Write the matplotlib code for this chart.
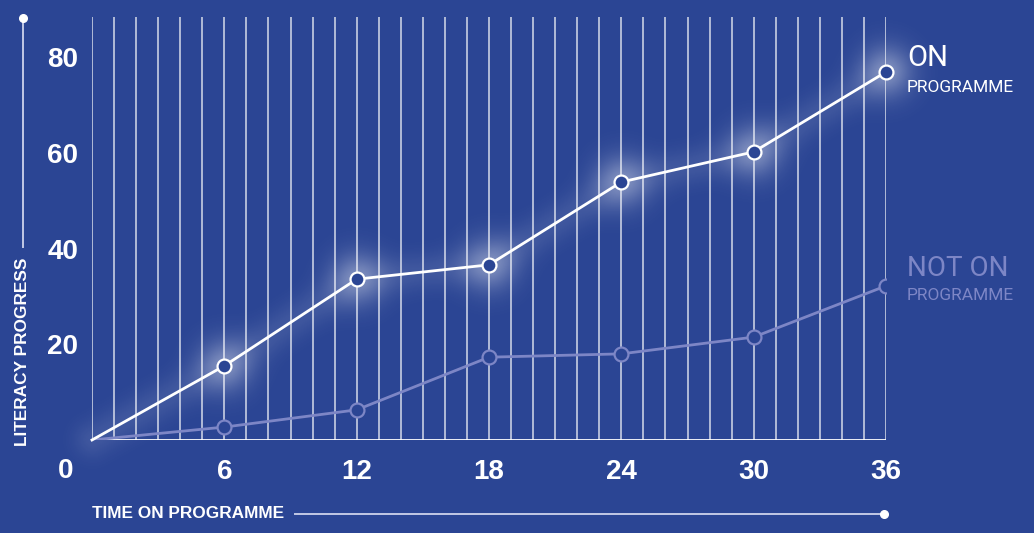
import matplotlib
matplotlib.use("Agg")
import matplotlib.pyplot as plt
import numpy as np

months = [0, 6, 12, 18, 24, 30, 36]
on_programme = [0, 15.5, 33.6, 36.6, 53.9, 60.2, 76.9]
not_on_programme = [0, 2.7, 6.3, 17.3, 18.0, 21.5, 32.2]
x_ticks = [6, 12, 18, 24, 30, 36]
y_ticks = [20, 40, 60, 80]
grid_months = list(range(0, 37))

BG = "#2b4594"
NOT_ON = "#7d86c6"
W, H = 1034, 533

fig = plt.figure(figsize=(W / 100, H / 100), dpi=100, facecolor=BG)
ax = fig.add_axes([92 / W, 1 - 440 / H, (886 - 92) / W, (440 - 15) / H])
ax.set_facecolor("none")
ax.set_xlim(0, 36)
ax.set_ylim(0, 88.8)
for s in ax.spines.values():
    s.set_visible(False)

# soft glow around the ON programme line, computed in pixel space
pts = ax.transData.transform(np.column_stack([months, on_programme]))
yy, xx = np.mgrid[0:H, 0:W].astype(float)
glow = np.zeros((H, W))
for (px, py) in pts[1:]:
    d2 = (xx - px) ** 2 + (yy - py) ** 2
    glow += 0.30 * np.exp(-d2 / (2 * 19.0 ** 2))
seg_d = np.full((H, W), 1e9)
for (x0, y0), (x1, y1) in zip(pts[:-1], pts[1:]):
    dx, dy = x1 - x0, y1 - y0
    t = np.clip(((xx - x0) * dx + (yy - y0) * dy) / (dx * dx + dy * dy), 0, 1)
    d2 = (xx - (x0 + t * dx)) ** 2 + (yy - (y0 + t * dy)) ** 2
    seg_d = np.minimum(seg_d, d2)
glow += 0.10 * np.exp(-seg_d / (2 * 13.0 ** 2))
glow = np.clip(glow, 0, 0.5)
rgba = np.ones((H, W, 4))
rgba[..., 3] = glow
fig.figimage(rgba, xo=0, yo=0, origin="lower", zorder=-1)

# vertical grid lines
ax.vlines(grid_months, 0, 88.4, colors="white", lw=1.1, alpha=0.8, zorder=1)
ax.plot([0, 36], [0, 0], color="white", lw=2, zorder=2, solid_capstyle="butt")

ax.plot(months, not_on_programme, color=NOT_ON, lw=2, zorder=3,
        marker="o", markersize=10, markerfacecolor=BG, markeredgecolor=NOT_ON,
        markeredgewidth=1.6, markevery=list(range(1, 7)))
ax.plot(months, on_programme, color="white", lw=2, zorder=4,
        marker="o", markersize=10, markerfacecolor=BG, markeredgecolor="white",
        markeredgewidth=1.6, markevery=list(range(1, 7)), clip_on=False)

ax.set_xticks(x_ticks)
ax.set_yticks(y_ticks)
ax.tick_params(length=0, colors="white")
ax.tick_params(axis="x", pad=14)
ax.tick_params(axis="y", pad=10)
for lab in ax.get_xticklabels() + ax.get_yticklabels():
    lab.set_fontfamily("Liberation Sans")
    lab.set_fontsize(20)
    lab.set_fontweight("bold")
    lab.set_color("white")
ax.annotate("0", xy=(0, 0), xytext=(-19, -22), textcoords="offset points",
            ha="center", va="center", color="white", fontsize=20,
            fontweight="bold", family="Liberation Sans", annotation_clip=False)

# right-side labels
fig.text(907 / W, 1 - 58 / H, "ON", color="white", fontsize=21,
         family="Roboto", va="center", ha="left")
fig.text(907 / W, 1 - 87.5 / H, "PROGRAMME", color="white", fontsize=12.5,
         family="Roboto", va="center", ha="left")
fig.text(907 / W, 1 - 269 / H, "NOT ON", color=NOT_ON, fontsize=20,
         family="Roboto", va="center", ha="left")
fig.text(907 / W, 1 - 295.5 / H, "PROGRAMME", color=NOT_ON, fontsize=12.5,
         family="Roboto", va="center", ha="left")

# axis titles with decorative lines
fig.text(23 / W, 1 - 352 / H, "LITERACY PROGRESS", color="white", fontsize=12.4,
         fontweight="bold", family="Liberation Sans", rotation=90,
         ha="center", va="center")
fig.text(92 / W, 1 - 514 / H, "TIME ON PROGRAMME", color="white", fontsize=12.4,
         fontweight="bold", family="Liberation Sans", ha="left", va="center")
deco = "#c3c9e6"
fig.add_artist(plt.Line2D([23 / W, 23 / W], [1 - 18 / H, 1 - 247 / H],
                          color=deco, lw=1.4))
fig.add_artist(plt.Line2D([23 / W], [1 - 18 / H], marker="o", markersize=5.5,
                          color="white", lw=0))
fig.add_artist(plt.Line2D([295 / W, 884 / W], [1 - 514 / H, 1 - 514 / H],
                          color=deco, lw=1.4))
fig.add_artist(plt.Line2D([884 / W], [1 - 514 / H], marker="o", markersize=5.5,
                          color="white", lw=0))

fig.savefig("out.png", dpi=100, facecolor=BG)
